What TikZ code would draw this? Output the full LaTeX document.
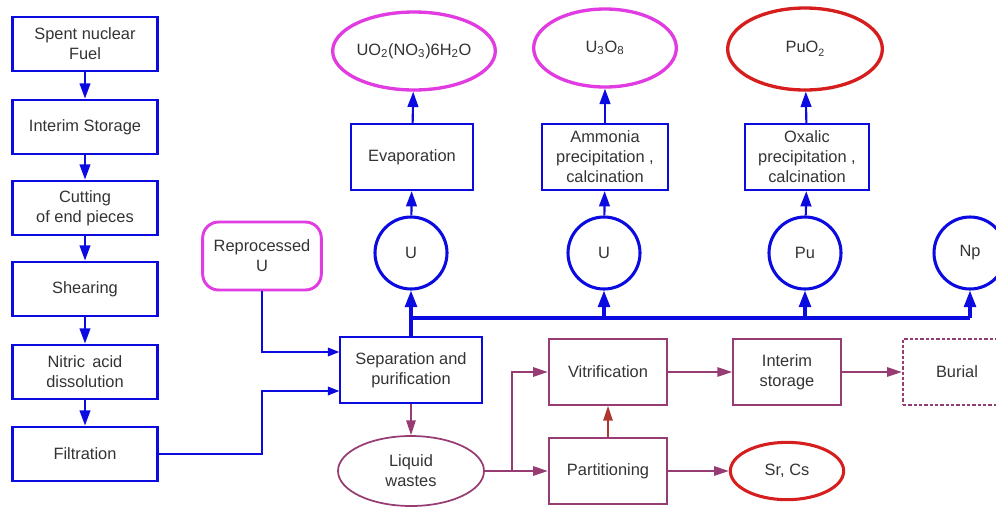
\documentclass[tikz,border=0pt]{standalone}
\usepackage{fontspec}
\setmainfont{Liberation Sans}
\usetikzlibrary{arrows.meta,shapes.geometric}

\definecolor{pblue}{RGB}{10,10,225}
\definecolor{pmag}{RGB}{225,60,225}
\definecolor{pwaste}{RGB}{150,60,115}
\definecolor{pred}{RGB}{215,30,30}
\definecolor{pbrown}{RGB}{175,55,50}

\begin{document}
\begin{tikzpicture}[x=0.75pt,y=-0.75pt,
    every node/.style={font=\fontsize{12.3}{15}\selectfont, align=center, text=black!80, inner sep=0pt},
    stepbox/.style={draw=pblue, line width=1.6pt, minimum width=108.75pt, minimum height=41pt},
    resbox/.style={draw=pblue, line width=1.6pt, minimum height=49.5pt},
    elem/.style={circle, draw=pblue, line width=2.3pt, minimum size=54pt},
    prod/.style={ellipse, line width=2.5pt, minimum height=58.5pt},
    wastebox/.style={draw=pwaste, line width=1.3pt, minimum width=89pt, minimum height=49.5pt},
    barrow/.style={draw=pblue, line width=1.6pt, -{Triangle[length=11.5pt,width=8pt]}},
    busarrow/.style={draw=pblue, line width=2.3pt, -{Triangle[length=12.5pt,width=9pt]}},
    thinarrow/.style={draw=pblue, line width=0.9pt, -{Triangle[length=8.5pt,width=6.5pt]}},
    warrow/.style={draw=pwaste, line width=1.3pt, -{Triangle[length=11pt,width=7pt]}}]

    % Fixed page size
    \useasboundingbox (0,0) rectangle (996,508);

    % Head end of the process
    \node[stepbox] (fuel) at (85,44) {Spent nuclear\\Fuel};
    \node[stepbox] (store) at (85,127) {Interim Storage};
    \node[stepbox] (cut) at (85,208) {Cutting\\of end pieces};
    \node[stepbox] (shear) at (85,289) {Shearing};
    \node[stepbox] (nitric) at (85,372) {Nitric\, acid\\dissolution};
    \node[stepbox] (filt) at (85,454) {Filtration};

    \draw[barrow] (fuel) -- (store);
    \draw[barrow] (store) -- (cut);
    \draw[barrow] (cut) -- (shear);
    \draw[barrow] (shear) -- (nitric);
    \draw[barrow] (nitric) -- (filt);

    % Separation
    \node[draw=pmag, line width=2.2pt, rounded corners=12pt, minimum width=89pt, minimum height=51pt]
        (repu) at (262,256) {Reprocessed\\U};
    \node[resbox, minimum width=106pt] (sep) at (411,370) {Separation and\\purification};

    \draw[thinarrow] (repu.south) |- ([yshift=13.5pt]sep.west);
    \draw[thinarrow] (filt.east) -- (filt.east -| repu.south) |- ([yshift=-15.75pt]sep.west);

    % Separated elements
    \node[elem] (u1) at (411,253) {U};
    \node[elem] (u2) at (604,253) {U};
    \node[elem] (pu) at (805,253) {Pu};
    \node[elem] (np) at (970,253) {Np};
    \coordinate (bus) at (411,318);

    \draw[busarrow] (sep.north) -- (u1.south);
    \draw[pblue, line width=2.3pt] (bus) -- (bus -| np.south);
    \draw[busarrow] (bus -| u2.south) -- (u2.south);
    \draw[busarrow] (bus -| pu.south) -- (pu.south);
    \draw[busarrow] (bus -| np.south) -- (np.south);

    % Conversion and products
    \node[resbox, minimum width=92pt] (evap) at (412,157) {Evaporation};
    \node[resbox, minimum width=94.5pt] (ammo) at (605,157) {Ammonia\\precipitation ,\\calcination};
    \node[resbox, minimum width=93pt] (oxal) at (807,157) {Oxalic\\precipitation ,\\calcination};

    \node[prod, draw=pmag, minimum width=114pt] (uo2) at (414,51)
        {UO\textsubscript{2}(NO\textsubscript{3})6H\textsubscript{2}O};
    \node[prod, draw=pmag, minimum width=107pt] (u3o8) at (605,48) {U\textsubscript{3}O\textsubscript{8}};
    \node[prod, draw=pred, minimum width=116pt, minimum height=61.5pt] (puo2) at (805,49)
        {PuO\raisebox{-3pt}{\footnotesize 2}};

    \draw[barrow] (u1) -- (evap);
    \draw[barrow] (u2) -- (ammo);
    \draw[barrow] (pu) -- (oxal);
    \draw[barrow] (evap) -- (uo2);
    \draw[barrow] (ammo) -- (u3o8);
    \draw[barrow] (oxal) -- (puo2);

    % Waste treatment
    \node[ellipse, draw=pwaste, line width=1.3pt, minimum width=109.5pt, minimum height=52.5pt]
        (liq) at (411,471) {Liquid\\wastes};
    \node[wastebox] (vit) at (608,372) {Vitrification};
    \node[wastebox] (part) at (608,471) {Partitioning};
    \node[wastebox, minimum width=81pt] (inter) at (787,372) {Interim\\storage};
    \node[wastebox, minimum width=81pt, line width=1.8pt, dash pattern=on 2.4pt off 1.6pt]
        (burial) at (957,372) {Burial};
    \node[ellipse, draw=pred, line width=2.3pt, minimum width=85pt, minimum height=43pt]
        (srcs) at (787,471) {Sr, Cs};

    \draw[warrow] (sep) -- (liq);
    \draw[warrow] (liq) -- (part);
    \draw[warrow] ([xshift=20.25pt]liq.east) |- (vit.west);
    \draw[warrow, draw=pbrown] (part) -- (vit);
    \draw[warrow] (vit) -- (inter);
    \draw[warrow] (inter) -- (burial);
    \draw[warrow] (part) -- (srcs);

\end{tikzpicture}
\end{document}
